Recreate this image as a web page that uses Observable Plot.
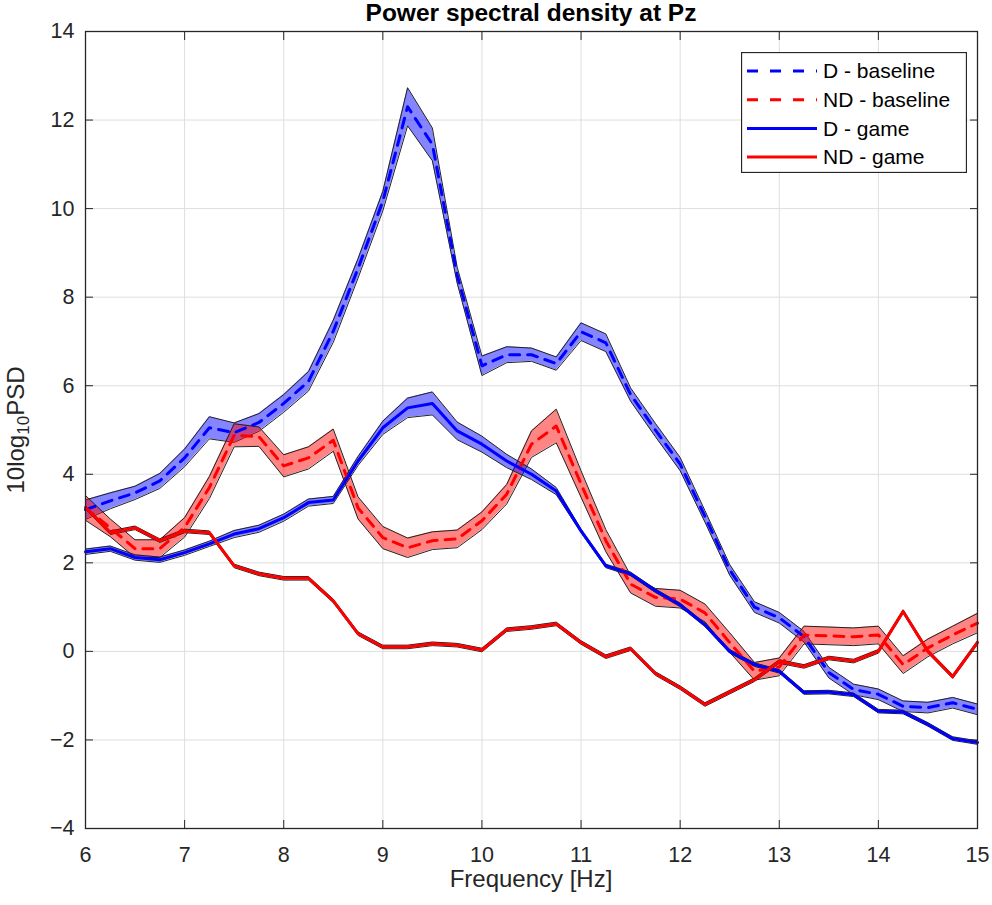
<!DOCTYPE html>
<html lang="en">
<head>
<meta charset="UTF-8">
<title>Power spectral density at Pz</title>
<style>
  body { margin: 0; background: #ffffff; font-family: "Liberation Sans", Arial, Helvetica, sans-serif; }
  #wrap { position: relative; width: 992px; height: 905px; color: #262626; }
  #chart svg { display: block; }
  .title { position: absolute; left: 85px; width: 892px; top: -1px; line-height: 1.15; text-align: center; font-weight: bold; font-size: 24.5px; color: #000; white-space: nowrap; }
  .xlabel { position: absolute; left: 85px; width: 892px; top: 867px; line-height: 1; text-align: center; font-size: 24px; }
  .ylabel { position: absolute; left: 17px; top: 430px; transform: translate(-50%, -50%) rotate(-90deg); white-space: nowrap; font-size: 24px; line-height: 1.2; }
  .ylabel sub { font-size: 17px; line-height: 1; }
  #legend { position: absolute; left: 741px; top: 52px; }
</style>
</head>
<body>
<div id="wrap">
  <div id="chart"></div>
  <div class="title">Power spectral density at Pz</div>
  <div class="xlabel">Frequency [Hz]</div>
  <div class="ylabel">10log<sub>10</sub>PSD</div>
  <div id="legend"></div>
</div>

<script src="https://cdn.jsdelivr.net/npm/d3@7"></script>
<script src="https://cdn.jsdelivr.net/npm/@observablehq/plot@0.6"></script>
<script>
// frequency bins (Hz)
const freq = [6, 6.25, 6.5, 6.75, 7, 7.25, 7.5, 7.75, 8, 8.25, 8.5, 8.75, 9, 9.25, 9.5, 9.75,
  10, 10.25, 10.5, 10.75, 11, 11.25, 11.5, 11.75, 12, 12.25, 12.5, 12.75, 13, 13.25, 13.5, 13.75,
  14, 14.25, 14.5, 14.75, 15];

const xTicks = [6, 7, 8, 9, 10, 11, 12, 13, 14, 15];
const yTicks = [-4, -2, 0, 2, 4, 6, 8, 10, 12, 14];

// D - baseline
const dBase = [3.2, 3.4, 3.58, 3.85, 4.37, 5.05, 4.94, 5.17, 5.6, 6.1, 7.23, 8.65, 10.17, 12.3, 11.45, 8.5,
  6.45, 6.7, 6.7, 6.5, 7.22, 6.97, 5.8, 5.0, 4.23, 3.05, 1.84, 1.0, 0.76, 0.33, -0.48, -0.86,
  -0.97, -1.24, -1.27, -1.16, -1.31];
const dBaseErr = [0.22, 0.18, 0.15, 0.17, 0.2, 0.25, 0.22, 0.2, 0.2, 0.22, 0.25, 0.22, 0.22, 0.43, 0.37, 0.18,
  0.22, 0.18, 0.15, 0.15, 0.2, 0.2, 0.15, 0.15, 0.15, 0.13, 0.12, 0.12, 0.12, 0.12, 0.12, 0.12,
  0.12, 0.12, 0.12, 0.12, 0.12];

// ND - baseline
const ndBase = [3.24, 2.79, 2.32, 2.32, 2.8, 3.7, 4.88, 4.85, 4.19, 4.37, 4.77, 3.24, 2.57, 2.34, 2.5, 2.54,
  2.95, 3.55, 4.68, 5.09, 3.78, 2.5, 1.52, 1.22, 1.18, 0.87, 0.2, -0.45, -0.35, 0.37, 0.35, 0.33,
  0.37, -0.3, 0.08, 0.37, 0.64];
const ndBaseErr = [0.28, 0.2, 0.2, 0.2, 0.22, 0.25, 0.26, 0.22, 0.25, 0.25, 0.25, 0.25, 0.25, 0.22, 0.2, 0.2,
  0.2, 0.22, 0.3, 0.38, 0.3, 0.25, 0.2, 0.2, 0.2, 0.2, 0.22, 0.2, 0.2, 0.2, 0.2, 0.2,
  0.2, 0.2, 0.2, 0.2, 0.22];

// D - game
const dGame = [2.25, 2.32, 2.12, 2.07, 2.23, 2.43, 2.65, 2.77, 3.02, 3.36, 3.42, 4.3, 5.05, 5.5, 5.6, 4.98,
  4.68, 4.3, 4.0, 3.62, 2.72, 1.93, 1.75, 1.37, 1.05, 0.6, 0.0, -0.3, -0.45, -0.93, -0.92, -0.98,
  -1.35, -1.37, -1.65, -1.97, -2.06];
const dGameErr = [0.06, 0.06, 0.06, 0.06, 0.06, 0.06, 0.08, 0.08, 0.08, 0.08, 0.08, 0.1, 0.15, 0.22, 0.26, 0.2,
  0.18, 0.15, 0.12, 0.08, 0.04, 0.04, 0.04, 0.04, 0.04, 0.04, 0.04, 0.04, 0.04, 0.04, 0.04, 0.04,
  0.04, 0.04, 0.04, 0.04, 0.04];

// ND - game
const ndGame = [3.25, 2.68, 2.79, 2.5, 2.72, 2.68, 1.93, 1.75, 1.65, 1.65, 1.14, 0.4, 0.1, 0.1, 0.17, 0.14,
  0.03, 0.49, 0.54, 0.62, 0.2, -0.12, 0.06, -0.5, -0.82, -1.2, -0.92, -0.64, -0.23, -0.34, -0.15, -0.22,
  0.0, 0.9, 0.0, -0.57, 0.2];
const ndGameErr = [0.04, 0.04, 0.04, 0.04, 0.04, 0.04, 0.04, 0.04, 0.04, 0.04, 0.04, 0.04, 0.04, 0.04, 0.04, 0.04,
  0.04, 0.04, 0.04, 0.04, 0.04, 0.04, 0.04, 0.04, 0.04, 0.04, 0.04, 0.04, 0.04, 0.04, 0.04, 0.04,
  0.04, 0.04, 0.04, 0.04, 0.04];

const series = [
  {name: "D - baseline", mean: dBase, err: dBaseErr, color: "#0000ff", dash: "10,8"},
  {name: "ND - baseline", mean: ndBase, err: ndBaseErr, color: "#ff0000", dash: "10,8"},
  {name: "D - game", mean: dGame, err: dGameErr, color: "#0000ff", dash: null},
  {name: "ND - game", mean: ndGame, err: ndGameErr, color: "#ff0000", dash: null}
];

const rowsOf = s => freq.map((f, i) => ({f, m: s.mean[i], lo: s.mean[i] - s.err[i], hi: s.mean[i] + s.err[i]}));

const bandMarks = series.flatMap(s => {
  const rows = rowsOf(s);
  return [
    Plot.areaY(rows, {x: "f", y1: "lo", y2: "hi", fill: s.color, fillOpacity: 0.48}),
    Plot.line(rows, {x: "f", y: "lo", stroke: "#222", strokeWidth: 1}),
    Plot.line(rows, {x: "f", y: "hi", stroke: "#222", strokeWidth: 1})
  ];
});

const lineMarks = series.map(s =>
  Plot.line(rowsOf(s), {x: "f", y: "m", stroke: s.color, strokeWidth: 3, strokeDasharray: s.dash})
);

const chart = Plot.plot({
  width: 992,
  height: 905,
  marginLeft: 85,
  marginRight: 15,
  marginTop: 31,
  marginBottom: 77,
  style: {fontFamily: '"Liberation Sans", Arial, Helvetica, sans-serif', fontSize: "21.5px", color: "#262626", background: "#fff"},
  x: {domain: [6, 15]},
  y: {domain: [-4, 14]},
  marks: [
    Plot.gridX(xTicks, {stroke: "#dedede", strokeOpacity: 1, strokeWidth: 1}),
    Plot.gridY(yTicks, {stroke: "#dedede", strokeOpacity: 1, strokeWidth: 1}),
    ...bandMarks,
    ...lineMarks,
    Plot.axisX(xTicks, {anchor: "bottom", tickSize: -8, tickPadding: 26, label: null}),
    Plot.axisX(xTicks, {anchor: "top", tickSize: -8, tickFormat: () => "", label: null}),
    Plot.axisY(yTicks, {anchor: "left", tickSize: -8, tickPadding: 19, label: null}),
    Plot.axisY(yTicks, {anchor: "right", tickSize: -8, tickFormat: () => "", label: null}),
    Plot.frame({stroke: "#262626", strokeWidth: 1.3})
  ]
});
document.querySelector("#chart").append(chart);

// legend box in the upper right corner
const lw = 226, lh = 121;
const leg = d3.select("#legend").append("svg").attr("width", lw).attr("height", lh);
leg.append("rect").attr("x", 0.5).attr("y", 0.5).attr("width", lw - 1).attr("height", lh - 1)
  .attr("fill", "#fff").attr("stroke", "#262626").attr("stroke-width", 1.3);
series.forEach((s, i) => {
  const y = 19 + i * 28.7;
  leg.append("line").attr("x1", 6).attr("x2", 76).attr("y1", y).attr("y2", y)
    .attr("stroke", s.color).attr("stroke-width", 3).attr("stroke-dasharray", s.dash ? "11,12" : null);
  leg.append("text").attr("x", 82).attr("y", y).attr("dy", "0.35em")
    .attr("font-size", 21).attr("fill", "#000")
    .attr("font-family", '"Liberation Sans", Arial, Helvetica, sans-serif')
    .text(s.name);
});
</script>
</body>
</html>
